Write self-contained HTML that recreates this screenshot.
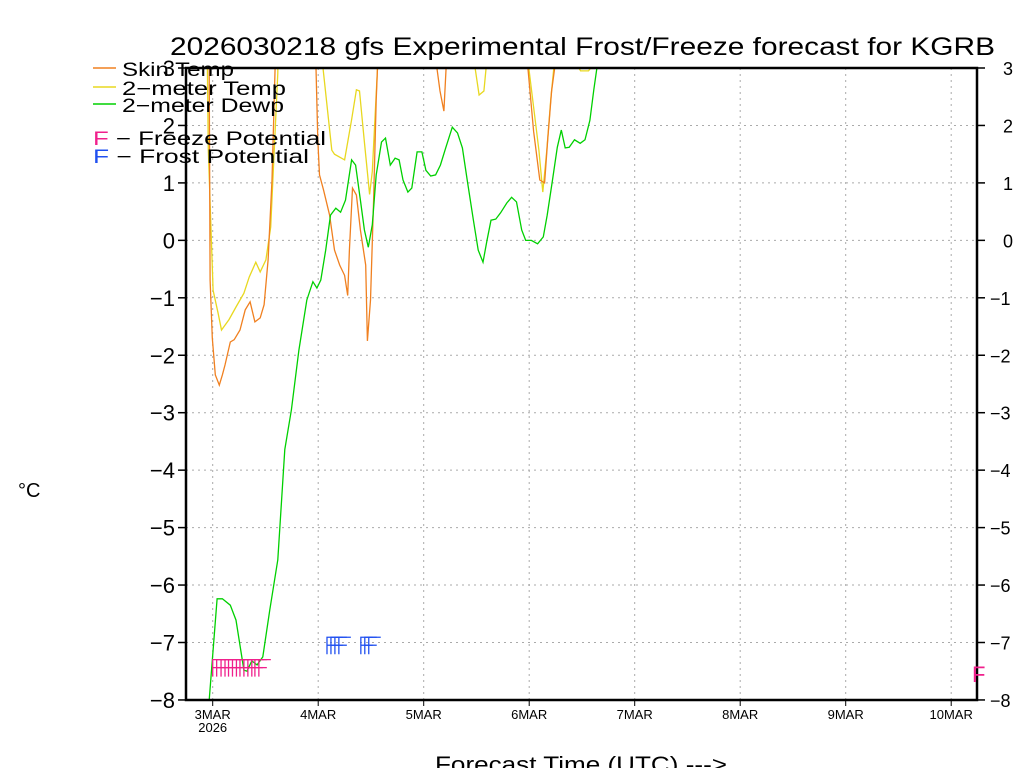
<!DOCTYPE html>
<html><head><meta charset="utf-8"><style>
html,body{margin:0;padding:0;background:#fff;}
svg{display:block;font-family:"Liberation Sans",sans-serif;}
</style></head><body>
<svg id="chart" width="1024" height="768" viewBox="0 0 1024 768" xmlns="http://www.w3.org/2000/svg">
<defs><clipPath id="plotclip"><rect x="186" y="68" width="791" height="632"/></clipPath></defs>
<g id="grid"></g>
<g id="series" clip-path="url(#plotclip)"></g>
<g id="marks"></g>
<rect x="186" y="68" width="791" height="632" fill="none" stroke="#000" stroke-width="2.5"/>
<g id="axes"></g>
<text x="170" y="55" font-size="25" textLength="825" lengthAdjust="spacingAndGlyphs">2026030218 gfs Experimental Frost/Freeze forecast for KGRB</text>
<g>
<line x1="93" y1="68" x2="116" y2="68" stroke="#f08020" stroke-width="1.5"/>
<text x="122" y="76" font-size="19" textLength="112" lengthAdjust="spacingAndGlyphs">Skin Temp</text>
<line x1="93" y1="87" x2="116" y2="87" stroke="#e8d820" stroke-width="1.5"/>
<text x="122" y="95" font-size="19" textLength="164" lengthAdjust="spacingAndGlyphs">2−meter Temp</text>
<line x1="93" y1="104" x2="116" y2="104" stroke="#00d000" stroke-width="1.5"/>
<text x="122" y="112" font-size="19" textLength="162" lengthAdjust="spacingAndGlyphs">2−meter Dewp</text>
<text x="93" y="145" font-size="19" textLength="233" lengthAdjust="spacingAndGlyphs"><tspan fill="#f0208c">F</tspan> − Freeze Potential</text>
<text x="93" y="163" font-size="19" textLength="216" lengthAdjust="spacingAndGlyphs"><tspan fill="#2050f0">F</tspan> − Frost Potential</text>
</g>
<text x="18" y="497" font-size="20">°C</text>
<text x="435" y="772" font-size="22" textLength="292" lengthAdjust="spacingAndGlyphs">Forecast Time (UTC) ---&gt;</text>
<text x="972" y="682" font-size="22" fill="#f0208c">F</text>
</svg>
<script>
// data (hours since 3 Mar 00Z, °C)
const dayLabels = ["3MAR","4MAR","5MAR","6MAR","7MAR","8MAR","9MAR","10MAR"];
const yTicks = [-8,-7,-6,-5,-4,-3,-2,-1,0,1,2,3];
const dewTimes = [-0.8,1.0,2.2,4.0,5.3,7.1,7.8,8.9,10.1,11.4,13.0,14.8,16.4,17.9,19.6,21.4,22.8,23.7,24.6,25.7,26.8,28.0,29.1,30.2,31.6,32.5,33.6,34.5,35.4,36.3,37.2,38.4,39.3,40.4,41.5,42.4,43.3,44.4,45.3,46.5,47.6,48.5,49.6,50.7,51.8,53.0,54.5,55.7,56.8,57.9,59.3,60.4,61.5,62.4,63.3,64.4,65.5,66.9,68.0,69.1,70.3,71.2,72.5,73.9,75.2,76.1,77.3,78.4,79.3,80.2,81.1,82.3,83.6,84.7,85.8,86.7,87.4,88.5];
const dewValues = [-8.0,-6.24,-6.24,-6.35,-6.61,-7.48,-7.5,-7.32,-7.39,-7.25,-6.43,-5.56,-3.64,-2.95,-1.91,-1.04,-0.72,-0.83,-0.69,-0.17,0.44,0.56,0.49,0.70,1.40,1.31,0.70,0.18,-0.12,0.27,1.14,1.71,1.78,1.31,1.43,1.40,1.05,0.84,0.91,1.54,1.54,1.22,1.12,1.14,1.31,1.61,1.97,1.87,1.61,1.05,0.35,-0.17,-0.38,0.0,0.35,0.37,0.48,0.65,0.75,0.67,0.18,0.0,0.0,-0.06,0.06,0.44,1.05,1.62,1.92,1.61,1.62,1.75,1.69,1.75,2.09,2.62,3.0,3.6];
const skinTimes = [-1.2,-0.8,-0.6,-0.1,0.6,1.5,2.2,2.8,4.0,4.9,6.2,7.4,8.5,9.6,10.8,11.7,12.6,13.5,14.2,14.6,23.0,23.5,23.9,24.3,25.2,26.6,27.7,28.9,30.0,30.7,31.1,31.8,32.7,33.6,34.8,35.2,35.9,36.6,37.2,37.5,37.9,50.6,51.0,51.7,52.6,53.1,53.5,71.2,71.7,73.0,74.4,75.5,76.2,77.1,77.8,78.2,174];
const skinValues = [5,3.0,-0.69,-1.7,-2.34,-2.52,-2.34,-2.17,-1.77,-1.73,-1.56,-1.21,-1.07,-1.42,-1.35,-1.12,-0.34,1.05,3.0,5,5,3.0,1.75,1.14,0.88,0.44,-0.17,-0.43,-0.61,-0.96,-0.17,0.91,0.79,0.18,-0.43,-1.75,-1.04,0.70,2.44,3.0,5,5,3.0,2.6,2.25,3.0,5,5,3.0,1.9,1.05,1.0,1.75,2.6,3.0,5,5];
const tempTimes = [-1.5,-1.0,-0.3,0.1,1.2,2.0,3.7,5.3,7.1,8.3,9.8,10.8,12.1,13.2,13.9,14.8,15.1,24.6,25.1,27.1,27.7,30.0,31.6,32.7,33.4,34.5,35.7,36.3,37.5,37.9,59.2,59.7,60.6,61.7,62.2,62.6,71.4,71.9,74.2,75.1,76.0,76.9,77.6,78.0,82.9,83.3,83.7,85.5,86.0,86.4,174];
const tempValues = [5,1.57,0.0,-0.87,-1.26,-1.56,-1.38,-1.16,-0.92,-0.64,-0.38,-0.55,-0.34,0.23,1.4,2.91,5,5,3.0,1.57,1.5,1.4,2.1,2.62,2.6,1.71,0.8,1.2,3.0,5,5,3.0,2.53,2.6,3.0,5,5,3.0,1.57,0.84,1.57,2.44,3.0,5,5,3.0,2.95,2.95,3.0,5,5];
const freezeTimes = [0.0,0.9,1.9,2.8,3.6,4.5,5.4,6.2,7.1,8.0,8.9,9.6,10.5];
const frostTimes = [26.0,26.9,27.8,28.7,33.7,34.6,35.5];
const freezeLevel = -7.42;
const frostLevel = -7.03;

const NS = "http://www.w3.org/2000/svg";
const X0 = 212.7, PXH = 105.5/24;
function xs(h){ return X0 + h*PXH; }
function ys(v){ return 68 + (3 - v)*57.45; }
function mk(tag, attrs, parent){ const e=document.createElementNS(NS,tag); for(const k in attrs) e.setAttribute(k,attrs[k]); parent.appendChild(e); return e; }

const grid=document.getElementById('grid'), axes=document.getElementById('axes'), series=document.getElementById('series'), marks=document.getElementById('marks');

yTicks.forEach(v=>{
  const y=ys(v);
  if(v>-8 && v<3){
    const g=mk('line',{x1:186,x2:977,y1:y,y2:y,stroke:'#aaa','stroke-dasharray':'2,4','stroke-width':1},grid);
    
    
  }
  const t1=mk('line',{x1:178,x2:186,y1:y,y2:y,stroke:'#000','stroke-width':1.5},axes);
  
  
  const t2=mk('line',{x1:977,x2:985,y1:y,y2:y,stroke:'#000','stroke-width':1.5},axes);
  
  
  const lab=(v<0?'−':'')+Math.abs(v);
  const l=mk('text',{x:175,y:y+8,'font-size':22,'text-anchor':'end'},axes);
  l.textContent=lab;
  
  
  const r=mk('text',{x:v<0?990:1003,y:y+7,'font-size':18},axes);
  r.textContent=lab;
  
  
});
dayLabels.forEach((d,i)=>{
  const x=xs(i*24);
  const g=mk('line',{x1:x,x2:x,y1:68,y2:700,stroke:'#aaa','stroke-dasharray':'2,4','stroke-width':1},grid);
  
  
  const t=mk('line',{x1:x,x2:x,y1:700,y2:706,stroke:'#000','stroke-width':1},axes);
  
  
  const l=mk('text',{x:x,y:719,'font-size':13,'text-anchor':'middle'},axes);
  l.textContent=d;
  
  
});
const yr=mk('text',{x:xs(0),y:732,'font-size':13,'text-anchor':'middle'},axes);
yr.textContent='2026';



function line(times,vals,color,name){
  const pts=times.map((t,i)=>xs(t).toFixed(1)+','+ys(vals[i]).toFixed(1)).join(' ');
  const p=mk('polyline',{points:pts,fill:'none',stroke:color,'stroke-width':1.3},series);
  
  
}
line(tempTimes,tempValues,'#e8d820','temp-2m-line');
line(skinTimes,skinValues,'#f08020','skin-temp-line');
line(dewTimes,dewValues,'#00d000','dewpoint-line');

function fmark(t,level,color,name){
  const x=xs(t), yt=ys(level)-7, yb=yt+17;
  const g=mk('g',{stroke:color,'stroke-width':1.3,fill:'none'},marks);
  
  
  mk('polyline',{points:`${x},${yb} ${x},${yt} ${x+12},${yt}`},g);
  mk('line',{x1:x,y1:yt+8,x2:x+8,y2:yt+8},g);
}
freezeTimes.forEach(t=>fmark(t,freezeLevel,'#f0208c','freeze-marker'));
frostTimes.forEach(t=>fmark(t,frostLevel,'#2050f0','frost-marker'));
</script>
</body></html>
